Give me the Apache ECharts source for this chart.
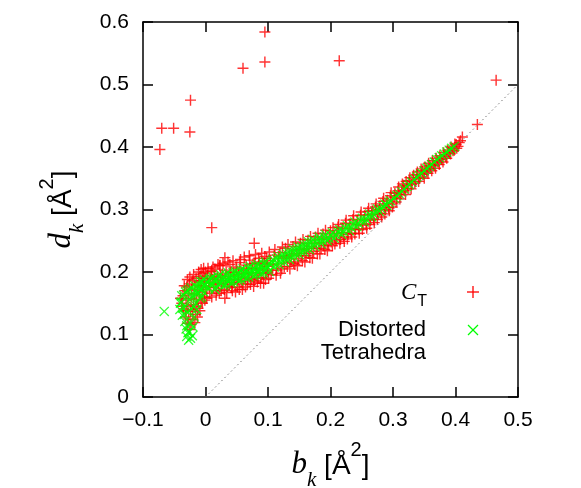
<!DOCTYPE html>
<html>
<head>
<meta charset="utf-8">
<script src="https://cdn.jsdelivr.net/npm/echarts@6/dist/echarts.min.js"></script>
<style>
  html, body { margin: 0; padding: 0; background: #fff; }
  #chart { width: 581px; height: 488px; }
</style>
</head>
<body>
<div id="chart"></div>
<script>
// C_T points (red +)
const ctPoints = [
  // stray points
  [0.095,0.584],[0.060,0.526],[0.095,0.536],[0.214,0.538],[0.465,0.507],[-0.024,0.475],
  [-0.070,0.430],[-0.051,0.430],[-0.025,0.424],[0.435,0.436],[-0.073,0.396],[0.010,0.271],
  [0.078,0.246],[0.031,0.223],[0.023,0.211],[0.010,0.203],
  // band
  [-0.038,0.150],[-0.036,0.162],[-0.035,0.141],[-0.033,0.170],[-0.032,0.128],[-0.031,0.155],
  [-0.030,0.176],[-0.029,0.118],[-0.028,0.146],[-0.027,0.165],[-0.026,0.181],[-0.025,0.108],
  [-0.024,0.137],[-0.023,0.158],[-0.022,0.172],[-0.021,0.186],[-0.020,0.124],[-0.019,0.148],
  [-0.018,0.165],[-0.017,0.179],[-0.016,0.132],[-0.015,0.190],[-0.014,0.156],[-0.013,0.171],
  [-0.012,0.142],[-0.011,0.184],[-0.010,0.163],[-0.009,0.193],[-0.008,0.176],[-0.007,0.152],
  [-0.006,0.186],[-0.005,0.168],[-0.004,0.198],[-0.003,0.178],[-0.002,0.160],[-0.001,0.190],
  [-0.040,0.158],[-0.037,0.145],[-0.034,0.178],[-0.031,0.138],[-0.029,0.188],[-0.027,0.125],
  [-0.025,0.192],[-0.023,0.116],[-0.021,0.140],[-0.019,0.196],[-0.017,0.119],[-0.015,0.145],
  [-0.013,0.128],[-0.011,0.200],[-0.009,0.138],[-0.007,0.204],[-0.005,0.150],[-0.003,0.206],
  [-0.001,0.155],
  [0.001,0.172],[0.003,0.195],[0.005,0.182],[0.007,0.166],[0.009,0.201],[0.011,0.188],
  [0.013,0.175],[0.015,0.205],[0.017,0.163],[0.019,0.192],[0.021,0.181],[0.023,0.210],
  [0.025,0.170],[0.027,0.197],[0.029,0.186],[0.031,0.158],[0.033,0.203],[0.035,0.177],
  [0.037,0.193],[0.039,0.212],[0.041,0.183],[0.043,0.170],[0.045,0.199],[0.047,0.188],
  [0.049,0.208],[0.051,0.176],[0.053,0.196],[0.055,0.215],[0.057,0.185],[0.059,0.172],
  [0.061,0.203],[0.063,0.192],[0.065,0.211],[0.067,0.181],[0.069,0.198],[0.071,0.219],
  [0.073,0.188],[0.075,0.206],[0.077,0.177],[0.079,0.214],[0.081,0.195],[0.083,0.184],
  [0.085,0.222],[0.087,0.203],[0.089,0.191],[0.091,0.212],[0.093,0.182],[0.095,0.225],
  [0.097,0.198],[0.099,0.209],
  [0.000,0.200],[0.002,0.158],[0.004,0.206],[0.006,0.176],[0.008,0.189],[0.010,0.160],
  [0.012,0.208],[0.014,0.192],[0.016,0.180],[0.018,0.170],[0.020,0.212],[0.022,0.166],
  [0.024,0.195],[0.026,0.182],[0.028,0.214],[0.030,0.172],[0.032,0.190],[0.034,0.167],
  [0.036,0.216],[0.038,0.180],[0.040,0.200],[0.042,0.175],[0.044,0.218],[0.046,0.183],
  [0.048,0.168],[0.050,0.205],[0.052,0.187],[0.054,0.172],[0.056,0.220],[0.058,0.198],
  [0.060,0.181],[0.062,0.224],[0.064,0.176],[0.066,0.205],[0.068,0.190],[0.070,0.226],
  [0.072,0.180],[0.074,0.199],[0.076,0.213],[0.078,0.186],[0.080,0.228],[0.082,0.205],
  [0.084,0.190],[0.086,0.216],[0.088,0.182],[0.090,0.230],[0.092,0.198],[0.094,0.214],
  [0.096,0.188],[0.098,0.222],[0.100,0.200],
  [0.101,0.190],[0.104,0.218],[0.107,0.203],[0.110,0.227],[0.113,0.195],[0.116,0.213],
  [0.119,0.231],[0.122,0.205],[0.125,0.222],[0.128,0.238],[0.131,0.209],[0.134,0.226],
  [0.137,0.216],[0.140,0.241],[0.143,0.212],[0.146,0.230],[0.149,0.221],[0.152,0.246],
  [0.155,0.218],[0.158,0.236],[0.161,0.226],[0.164,0.251],[0.167,0.223],[0.170,0.241],
  [0.173,0.233],[0.176,0.256],[0.179,0.229],[0.182,0.247],[0.185,0.238],[0.188,0.261],
  [0.191,0.236],[0.194,0.253],[0.197,0.244],[0.200,0.266],
  [0.102,0.232],[0.105,0.196],[0.108,0.212],[0.111,0.236],[0.114,0.203],[0.117,0.225],
  [0.120,0.198],[0.123,0.240],[0.126,0.208],[0.129,0.224],[0.132,0.244],[0.135,0.205],
  [0.138,0.228],[0.141,0.214],[0.144,0.248],[0.147,0.210],[0.150,0.236],[0.153,0.226],
  [0.156,0.252],[0.159,0.216],[0.162,0.238],[0.165,0.230],[0.168,0.257],[0.171,0.222],
  [0.174,0.246],[0.177,0.238],[0.180,0.262],[0.183,0.229],[0.186,0.252],[0.189,0.242],
  [0.192,0.267],[0.195,0.234],[0.198,0.256],
  [0.203,0.242],[0.206,0.259],[0.209,0.251],[0.212,0.272],[0.215,0.246],[0.218,0.263],
  [0.221,0.256],[0.224,0.278],[0.227,0.253],[0.230,0.270],[0.233,0.262],[0.236,0.284],
  [0.239,0.261],[0.242,0.276],[0.245,0.269],[0.248,0.291],[0.251,0.268],[0.254,0.284],
  [0.257,0.277],[0.260,0.297],[0.263,0.276],[0.266,0.292],[0.269,0.285],[0.272,0.304],
  [0.275,0.284],[0.278,0.300],[0.281,0.294],[0.284,0.313],[0.287,0.293],[0.290,0.309],
  [0.293,0.303],[0.296,0.322],[0.299,0.304],
  [0.201,0.248],[0.204,0.271],[0.207,0.245],[0.210,0.262],[0.213,0.276],[0.216,0.252],
  [0.219,0.270],[0.222,0.249],[0.225,0.283],[0.228,0.260],[0.231,0.277],[0.234,0.256],
  [0.237,0.290],[0.240,0.268],[0.243,0.283],[0.246,0.262],[0.249,0.296],[0.252,0.275],
  [0.255,0.291],[0.258,0.270],[0.261,0.302],[0.264,0.283],[0.267,0.298],[0.270,0.279],
  [0.273,0.309],[0.276,0.292],[0.279,0.306],[0.282,0.288],[0.285,0.318],[0.288,0.300],
  [0.291,0.315],[0.294,0.298],[0.297,0.327],
  [0.302,0.320],[0.305,0.312],[0.308,0.330],[0.311,0.317],[0.314,0.328],[0.317,0.339],
  [0.320,0.324],[0.323,0.338],[0.326,0.346],[0.329,0.333],[0.332,0.349],[0.335,0.342],
  [0.338,0.356],[0.341,0.345],[0.344,0.352],[0.347,0.362],[0.350,0.350],[0.353,0.364],
  [0.356,0.358],[0.359,0.370],[0.362,0.362],[0.365,0.372],[0.368,0.366],[0.371,0.378],
  [0.374,0.372],[0.377,0.381],[0.380,0.376],[0.383,0.388],[0.386,0.382],[0.389,0.392],
  [0.392,0.389],[0.395,0.398],[0.398,0.395],[0.401,0.404],[0.404,0.401],[0.408,0.410],
  [0.411,0.416],
  [0.300,0.309],[0.303,0.326],[0.306,0.318],[0.309,0.336],[0.312,0.324],[0.315,0.341],
  [0.318,0.330],[0.321,0.345],[0.324,0.334],[0.327,0.351],[0.330,0.340],[0.333,0.355],
  [0.336,0.345],[0.339,0.360],[0.342,0.350],[0.345,0.365],[0.348,0.356],[0.351,0.368],
  [0.354,0.360],[0.357,0.374],[0.360,0.366],[0.363,0.378],[0.366,0.370],[0.369,0.382],
  [0.372,0.376],[0.375,0.386],[0.378,0.380],[0.381,0.391],[0.384,0.385],[0.387,0.395],
  [0.390,0.390],[0.393,0.400],[0.396,0.394],[0.399,0.405],[0.402,0.398],[0.406,0.407]
];

// Distorted Tetrahedra points (green x)
const tetraPoints = [
  [-0.066,0.137],
  [-0.041,0.140],[-0.039,0.152],[-0.037,0.131],[-0.035,0.163],[-0.033,0.121],[-0.032,0.145],
  [-0.031,0.109],[-0.030,0.097],[-0.029,0.170],[-0.028,0.135],[-0.027,0.091],[-0.026,0.104],
  [-0.025,0.156],[-0.024,0.118],[-0.023,0.175],[-0.022,0.141],[-0.021,0.098],[-0.020,0.162],
  [-0.018,0.128],[-0.017,0.178],[-0.015,0.150],[-0.013,0.166],[-0.011,0.181],[-0.009,0.158],
  [-0.007,0.172],[-0.005,0.185],[-0.003,0.168],[-0.001,0.178],
  [-0.040,0.150],[-0.038,0.162],[-0.036,0.142],[-0.034,0.132],[-0.032,0.168],[-0.030,0.114],
  [-0.028,0.103],[-0.026,0.172],[-0.024,0.094],[-0.022,0.160],[-0.020,0.112],[-0.019,0.145],
  [-0.016,0.170],[-0.014,0.140],[-0.012,0.175],[-0.010,0.167],[-0.008,0.185],[-0.006,0.160],
  [-0.004,0.178],[-0.002,0.188],
  [0.002,0.184],[0.005,0.173],[0.008,0.190],[0.011,0.179],[0.014,0.186],[0.017,0.176],
  [0.020,0.193],[0.023,0.183],[0.026,0.190],[0.029,0.178],[0.032,0.196],[0.035,0.186],
  [0.038,0.193],[0.041,0.182],[0.044,0.199],[0.047,0.190],[0.050,0.196],[0.053,0.186],
  [0.056,0.203],[0.059,0.193],[0.062,0.199],[0.065,0.190],[0.068,0.207],[0.071,0.197],
  [0.074,0.203],[0.077,0.194],[0.080,0.210],[0.083,0.200],[0.086,0.206],[0.089,0.197],
  [0.092,0.214],[0.095,0.204],[0.098,0.210],[0.102,0.201],[0.106,0.217],[0.110,0.208],
  [0.114,0.221],[0.118,0.212],[0.122,0.225],[0.126,0.216],[0.130,0.229],[0.134,0.220],
  [0.138,0.232],[0.142,0.224],[0.146,0.236],[0.150,0.228],[0.154,0.240],[0.158,0.232],
  [0.162,0.244],[0.166,0.236],[0.170,0.248],[0.175,0.241],[0.180,0.252],[0.185,0.245],
  [0.190,0.256],[0.195,0.250],[0.200,0.259],[0.206,0.254],[0.212,0.264],[0.218,0.260],
  [0.224,0.270],[0.230,0.266],[0.236,0.276],[0.242,0.273],[0.248,0.282],[0.254,0.280],
  [0.260,0.289],[0.266,0.288],[0.272,0.297],[0.278,0.297],[0.284,0.305],[0.290,0.307],
  [0.296,0.314],[0.302,0.318],[0.310,0.325],[0.318,0.333],[0.326,0.340],[0.334,0.348],
  [0.342,0.355],[0.350,0.362],[0.358,0.369],[0.366,0.376],[0.374,0.383],[0.382,0.389],
  [0.390,0.395],[0.398,0.401],
  [0.003,0.177],[0.006,0.188],[0.009,0.181],[0.012,0.192],[0.015,0.172],[0.018,0.188],
  [0.021,0.180],[0.024,0.196],[0.027,0.183],[0.030,0.190],[0.033,0.180],[0.036,0.199],
  [0.039,0.187],[0.042,0.194],[0.045,0.184],[0.048,0.201],[0.051,0.191],[0.054,0.198],
  [0.057,0.188],[0.060,0.205],[0.063,0.195],[0.066,0.201],[0.069,0.192],[0.072,0.209],
  [0.075,0.199],[0.078,0.205],[0.081,0.196],[0.084,0.212],[0.087,0.202],[0.090,0.209],
  [0.093,0.199],[0.096,0.216],[0.100,0.207],[0.104,0.212],[0.108,0.220],[0.112,0.212],
  [0.116,0.225],[0.120,0.217],[0.124,0.229],[0.128,0.221],[0.132,0.233],[0.136,0.225],
  [0.140,0.237],[0.144,0.229],[0.148,0.240],[0.152,0.233],[0.156,0.245],[0.160,0.237],
  [0.164,0.249],[0.168,0.241],[0.172,0.252],[0.177,0.246],[0.182,0.256],[0.187,0.250],
  [0.192,0.260],[0.197,0.254],[0.203,0.263],[0.209,0.259],[0.215,0.268],[0.221,0.265],
  [0.227,0.274],[0.233,0.271],[0.239,0.280],[0.245,0.277],[0.251,0.286],[0.257,0.284],
  [0.263,0.293],[0.269,0.292],[0.275,0.301],[0.281,0.301],[0.287,0.309],[0.293,0.311],
  [0.306,0.322],[0.314,0.329],[0.322,0.337],[0.330,0.344],[0.338,0.352],[0.346,0.358],
  [0.354,0.366],[0.362,0.372],[0.370,0.380],[0.378,0.386],[0.386,0.392],[0.394,0.398]
];

// dotted y = x reference line
const diagonal = [[0, 0], [0.5, 0.5]];

const xMin = -0.1, xMax = 0.5, xStep = 0.1;
const yMin = 0, yMax = 0.6, yStep = 0.1;

const plusPath = 'path://M4.35,0h1.3v4.35h4.35v1.3h-4.35v4.35h-1.3v-4.35h-4.35v-1.3h4.35z';
const crossPath = 'path://M0,0.9L0.9,0L5,4.1L9.1,0L10,0.9L5.9,5L10,9.1L9.1,10L5,5.9L0.9,10L0,9.1L4.1,5Z';

const sans = '"Liberation Sans", Arial, sans-serif';
const serif = '"Liberation Serif", "Times New Roman", serif';

function tickFmt(v) {
  if (Math.abs(v) < 1e-9) return '0';
  return v.toFixed(1).replace('-', '\u2212');
}

const nameRich = {
  it: { fontFamily: serif, fontStyle: 'italic', fontSize: 31, color: '#000', lineHeight: 40, verticalAlign: 'bottom' },
  sub: { fontFamily: serif, fontStyle: 'italic', fontSize: 21, color: '#000', lineHeight: 40, verticalAlign: 'bottom', padding: [0, 0, -11, 0] },
  br: { fontFamily: sans, fontSize: 28, color: '#000', lineHeight: 40, verticalAlign: 'bottom' },
  sup: { fontFamily: sans, fontSize: 20, color: '#000', lineHeight: 40, verticalAlign: 'top' }
};

const axisCommon = {
  axisLine: { show: true, onZero: false, lineStyle: { color: '#000', width: 1.5 } },
  axisTick: { show: true, inside: true, length: 10, lineStyle: { color: '#000', width: 1.5 } },
  splitLine: { show: false }
};

const chart = echarts.init(document.getElementById('chart'));
chart.setOption({
  animation: false,
  backgroundColor: '#fff',
  grid: { left: 143, top: 22, width: 375, height: 375, show: false, outerBoundsMode: 'none', containLabel: false },
  xAxis: [
    Object.assign({
      type: 'value', min: xMin, max: xMax, interval: xStep, position: 'bottom',
      axisLabel: { formatter: tickFmt, fontFamily: sans, fontSize: 21, color: '#000', margin: 13 },
      name: '{it|b}{sub|k}{br| [Å}{sup|2}{br|]}',
      nameLocation: 'middle', nameGap: 43,
      nameTextStyle: { rich: nameRich }
    }, axisCommon),
    Object.assign({
      type: 'value', min: xMin, max: xMax, interval: xStep, position: 'top',
      axisLabel: { show: false }
    }, axisCommon)
  ],
  yAxis: [
    Object.assign({
      type: 'value', min: yMin, max: yMax, interval: yStep, position: 'left',
      axisLabel: { formatter: tickFmt, fontFamily: sans, fontSize: 21, color: '#000', margin: 14 },
      name: '{it|d}{sub|k}{br| [Å}{sup|2}{br|]}',
      nameLocation: 'middle', nameGap: 66, nameRotate: 90,
      nameTextStyle: { rich: nameRich }
    }, axisCommon),
    Object.assign({
      type: 'value', min: yMin, max: yMax, interval: yStep, position: 'right',
      axisLabel: { show: false }
    }, axisCommon)
  ],
  series: [
    {
      type: 'line', data: diagonal, symbol: 'none', silent: true,
      lineStyle: { color: '#777', width: 1, type: [1.5, 3] }
    },
    {
      name: 'C_T', type: 'scatter', data: ctPoints, symbol: plusPath, symbolSize: 11,
      itemStyle: { color: '#ff0000' }
    },
    {
      name: 'Distorted Tetrahedra', type: 'scatter', data: tetraPoints, symbol: crossPath, symbolSize: 10,
      itemStyle: { color: '#00ff00' }
    }
  ],
  graphic: [
    {
      type: 'text', x: 401, y: 276,
      style: {
        text: '{c|C}{t|T}',
        rich: {
          c: { fontFamily: serif, fontStyle: 'italic', fontSize: 23, fill: '#000', verticalAlign: 'bottom', lineHeight: 28 },
          t: { fontFamily: sans, fontSize: 16, fill: '#000', verticalAlign: 'bottom', lineHeight: 28, padding: [0, 0, -6, 1] }
        }
      }
    },
    { type: 'line', shape: { x1: 467, y1: 292, x2: 479, y2: 292 }, style: { stroke: '#ff0000', lineWidth: 1.3 } },
    { type: 'line', shape: { x1: 473, y1: 286, x2: 473, y2: 298 }, style: { stroke: '#ff0000', lineWidth: 1.3 } },
    {
      type: 'text', x: 426, y: 318,
      style: { text: 'Distorted\nTetrahedra', fontFamily: sans, fontSize: 22, fill: '#000', align: 'right', lineHeight: 23 }
    },
    { type: 'line', shape: { x1: 468, y1: 325, x2: 478, y2: 335 }, style: { stroke: '#00ff00', lineWidth: 1.3 } },
    { type: 'line', shape: { x1: 468, y1: 335, x2: 478, y2: 325 }, style: { stroke: '#00ff00', lineWidth: 1.3 } }
  ]
});
</script>
</body>
</html>
